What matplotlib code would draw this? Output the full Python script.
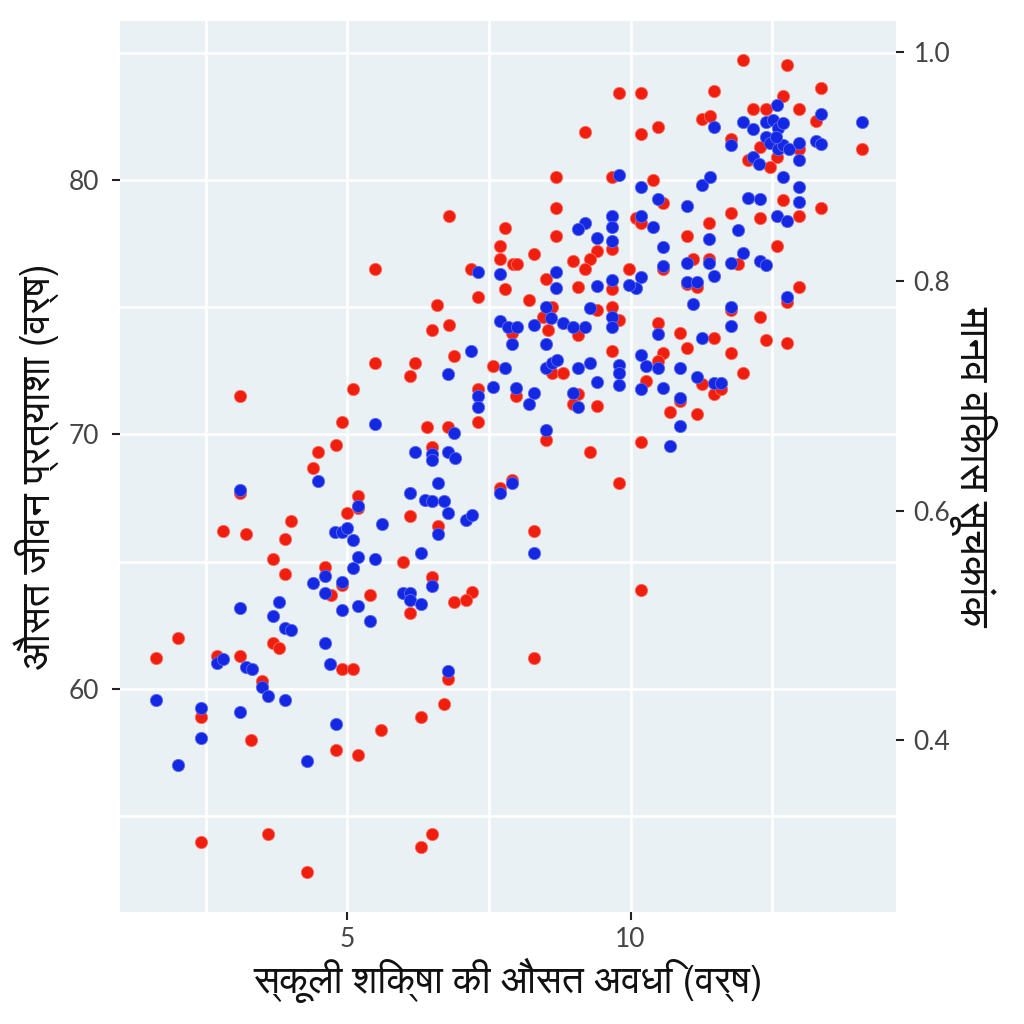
import matplotlib
matplotlib.use("Agg")
import matplotlib.pyplot as plt
from matplotlib import font_manager
from matplotlib.ticker import FixedLocator

# data (x = schooling years)
# red: life expectancy (left axis)
red_x = [11.98, 12.77, 13.37, 11.48, 9.79, 10.19, 12.69, 12.17, 12.39, 12.97,
         11.27, 11.40, 13.27, 10.49, 9.19, 10.19, 14.08, 11.78, 12.28, 12.58,
         12.97, 12.07, 12.47, 8.69, 9.68, 10.39, 12.69, 10.58, 13.37, 8.69,
         12.97, 11.78, 12.28, 10.09, 10.19, 11.38, 6.80, 7.79, 8.69, 10.99,
         12.58, 9.68, 7.70, 9.40, 8.29, 9.29, 7.70, 7.92, 8.00, 8.98,
         9.19, 9.98, 5.49, 7.19, 10.58, 11.10, 11.38, 11.89, 8.50, 7.79,
         9.08, 9.68, 12.97, 7.30, 8.20, 10.99, 11.18, 12.77, 6.59, 8.62,
         9.40, 9.68, 11.78, 8.46, 9.79, 12.28, 10.49, 6.80, 6.50, 10.88,
         7.90, 8.55, 9.08, 11.48, 12.39, 12.77, 10.99, 9.68, 11.78, 6.89,
         10.58, 10.49, 5.49, 6.20, 7.58, 8.62, 8.80, 11.98, 6.10, 10.28,
         11.27, 11.48, 11.59, 5.11, 7.30, 3.11, 7.97, 9.08, 8.98, 9.40,
         10.88, 10.69, 11.18, 7.30, 4.91, 6.40, 6.78, 8.50, 10.19, 4.81,
         6.50, 4.49, 9.28, 4.40, 9.79, 7.90, 7.70, 5.19, 3.11, 5.00,
         6.10, 4.01, 2.81, 3.22, 6.61, 8.29, 3.90, 3.69, 5.99, 3.90,
         4.61, 6.50, 4.91, 7.21, 7.10, 6.89, 4.72, 5.41, 10.19, 6.10,
         2.01, 3.69, 3.80, 1.63, 2.70, 3.11, 8.29, 4.91, 5.11, 6.78,
         3.50, 6.70, 2.42, 6.31, 5.60, 3.30, 4.81, 5.19, 2.42, 3.60,
         4.29, 6.50, 6.31, 5.19]
red_y = [84.7, 84.5, 83.6, 83.5, 83.4, 83.4, 83.3, 82.8, 82.8, 82.8,
         82.4, 82.5, 82.3, 82.1, 81.9, 81.8, 81.2, 81.6, 81.3, 80.9,
         81.2, 80.8, 80.5, 80.1, 80.1, 80.0, 79.2, 79.1, 78.9, 78.9,
         78.6, 78.7, 78.5, 78.5, 78.3, 78.3, 78.6, 78.1, 77.8, 77.8,
         77.4, 77.3, 77.4, 77.2, 77.1, 76.9, 76.9, 76.7, 76.7, 76.8,
         76.5, 76.5, 76.5, 76.5, 76.5, 76.9, 76.9, 76.7, 76.1, 75.7,
         75.8, 75.7, 75.8, 75.4, 75.3, 75.9, 75.8, 75.2, 75.1, 75.0,
         74.9, 75.0, 74.9, 74.6, 74.5, 74.6, 74.4, 74.3, 74.1, 74.0,
         74.0, 74.1, 73.9, 73.8, 73.7, 73.6, 73.4, 73.3, 73.2, 73.1,
         73.2, 72.9, 72.8, 72.8, 72.7, 72.4, 72.4, 72.4, 72.3, 72.1,
         72.0, 71.6, 71.8, 71.8, 71.8, 71.5, 71.5, 71.6, 71.2, 71.1,
         71.3, 70.9, 70.8, 70.5, 70.5, 70.3, 70.3, 69.8, 69.7, 69.6,
         69.5, 69.3, 69.3, 68.7, 68.1, 68.2, 67.9, 67.6, 67.7, 66.9,
         66.8, 66.6, 66.2, 66.1, 66.4, 66.2, 65.9, 65.1, 65.0, 64.5,
         64.8, 64.4, 64.1, 63.8, 63.5, 63.4, 63.7, 63.7, 63.9, 63.0,
         62.0, 61.8, 61.6, 61.2, 61.3, 61.3, 61.2, 60.8, 60.8, 60.4,
         60.3, 59.4, 58.9, 58.9, 58.4, 58.0, 57.6, 57.4, 54.0, 54.3,
         52.8, 54.3, 53.8, 67.1]

# blue: human development index (right axis)
blue_x = [14.08, 12.58, 13.37, 11.48, 11.98, 12.17, 12.39, 12.51, 12.60, 12.69,
          12.39, 12.47, 12.60, 12.69, 12.79, 12.56, 12.97, 12.97, 13.27, 13.37,
          11.78, 12.17, 12.26, 12.69, 12.97, 12.97, 12.58, 12.77, 11.27, 11.40,
          10.19, 10.49, 10.99, 12.07, 12.28, 10.19, 10.39, 11.89, 11.38, 10.58,
          11.98, 10.58, 10.99, 11.38, 11.78, 12.28, 12.39, 11.48, 10.19, 10.09,
          9.98, 10.99, 11.18, 11.10, 11.78, 12.77, 11.78, 9.79, 9.19, 9.08,
          9.68, 9.68, 9.40, 9.68, 8.69, 8.69, 9.40, 9.68, 8.50, 8.59,
          8.80, 8.98, 9.19, 9.68, 9.68, 9.28, 8.29, 7.70, 7.83, 8.00,
          7.30, 7.69, 7.90, 8.50, 10.49, 11.27, 10.19, 10.28, 10.49, 10.88,
          11.18, 11.47, 11.59, 10.19, 10.58, 10.88, 10.88, 10.69, 8.50, 8.62,
          8.71, 9.08, 9.29, 9.79, 9.79, 9.79, 9.40, 8.29, 8.20, 8.98,
          9.08, 8.50, 7.19, 7.79, 6.78, 7.58, 7.30, 7.30, 7.97, 5.49,
          6.89, 6.20, 6.50, 6.50, 6.78, 6.91, 4.49, 3.11, 5.19, 4.79,
          4.91, 5.00, 5.11, 5.62, 6.10, 6.38, 6.50, 6.70, 6.61, 6.78,
          7.10, 7.21, 6.61, 7.69, 7.90, 8.29, 5.19, 5.49, 5.11, 6.31,
          4.61, 4.40, 4.91, 4.61, 4.91, 5.19, 5.41, 5.99, 6.10, 6.10,
          6.31, 6.50, 3.11, 3.80, 3.69, 3.90, 4.01, 4.61, 4.70, 2.70,
          2.81, 3.22, 3.32, 3.50, 3.60, 3.90, 6.78, 1.63, 2.42, 3.11,
          2.42, 2.01, 4.81, 4.29]
blue_y = [0.939, 0.954, 0.946, 0.935, 0.939, 0.933, 0.939, 0.941, 0.934, 0.938,
          0.926, 0.921, 0.915, 0.919, 0.915, 0.926, 0.921, 0.906, 0.922, 0.920,
          0.919, 0.908, 0.902, 0.891, 0.882, 0.869, 0.857, 0.853, 0.884, 0.891,
          0.882, 0.872, 0.866, 0.873, 0.872, 0.857, 0.847, 0.845, 0.837, 0.830,
          0.825, 0.813, 0.816, 0.816, 0.816, 0.818, 0.814, 0.805, 0.804, 0.794,
          0.797, 0.799, 0.799, 0.780, 0.778, 0.786, 0.761, 0.893, 0.851, 0.846,
          0.857, 0.847, 0.838, 0.835, 0.808, 0.794, 0.796, 0.801, 0.778, 0.768,
          0.764, 0.760, 0.760, 0.769, 0.760, 0.777, 0.762, 0.765, 0.760, 0.760,
          0.808, 0.806, 0.745, 0.745, 0.754, 0.751, 0.736, 0.726, 0.724, 0.724,
          0.717, 0.711, 0.711, 0.706, 0.707, 0.698, 0.674, 0.656, 0.724, 0.729,
          0.731, 0.724, 0.729, 0.727, 0.720, 0.710, 0.712, 0.703, 0.693, 0.703,
          0.690, 0.670, 0.739, 0.724, 0.719, 0.708, 0.700, 0.690, 0.707, 0.676,
          0.668, 0.651, 0.649, 0.644, 0.651, 0.646, 0.626, 0.618, 0.604, 0.581,
          0.581, 0.585, 0.574, 0.588, 0.615, 0.609, 0.608, 0.608, 0.624, 0.598,
          0.592, 0.596, 0.580, 0.615, 0.624, 0.563, 0.560, 0.558, 0.550, 0.563,
          0.543, 0.537, 0.538, 0.528, 0.513, 0.517, 0.504, 0.528, 0.528, 0.522,
          0.519, 0.534, 0.515, 0.520, 0.508, 0.498, 0.496, 0.485, 0.466, 0.467,
          0.471, 0.464, 0.462, 0.446, 0.438, 0.435, 0.460, 0.435, 0.428, 0.424,
          0.402, 0.378, 0.414, 0.382]

x_label = "स्कूली शिक्षा की औसत अवधि (वर्ष)"
y_label = "औसत जीवन प्रत्याशा (वर्ष)"
y2_label = "मानव विकास सूचकांक"


def devanagari_font():
    try:
        from fontTools.ttLib import TTFont
    except Exception:
        return None
    found = []
    for f in font_manager.fontManager.ttflist:
        try:
            tt = TTFont(f.fname, fontNumber=0, lazy=True)
            cmap = tt.getBestCmap()
            if cmap and 0x0915 in cmap:
                found.append(f.name)
        except Exception:
            pass
    if not found:
        return None
    found.sort(key=lambda n: (0 if "Sans" in n else 1, n))
    return found[0]


deva = devanagari_font()
label_family = [deva, "DejaVu Sans"] if deva else ["DejaVu Sans"]
tick_family = ["Lato", "DejaVu Sans"]

bg = "#e9f1f4"
red = "#f01e0f"
blue = "#1428e4"
tick_col = "#444444"

fig = plt.figure(figsize=(10.24, 10.24), dpi=100)
ax = fig.add_axes([0.1172, 0.1097, 0.7575, 0.8701])
ax.set_facecolor(bg)
ax.set_xlim(0.99, 14.68)
ax.set_ylim(51.25, 86.26)

ax.scatter(red_x, red_y, s=78, color=red, edgecolors="#ff6b5e", linewidths=0.6, zorder=3)

ax.xaxis.set_major_locator(FixedLocator([5, 10]))
ax.xaxis.set_minor_locator(FixedLocator([2.5, 7.5, 12.5]))
ax.yaxis.set_major_locator(FixedLocator([60, 70, 80]))
ax.yaxis.set_minor_locator(FixedLocator([55, 65, 75, 85]))
ax.grid(True, which="both", color="white", lw=1.8)
ax.set_axisbelow(True)
ax.tick_params(which="minor", length=0)
ax.tick_params(axis="y", which="major", length=6, width=1.5, color="#222222",
               labelsize=19, labelcolor=tick_col, pad=9)
ax.tick_params(axis="x", which="major", length=6, width=1.5, color="#222222",
               labelsize=19, labelcolor=tick_col, pad=5)
for lab in ax.get_xticklabels() + ax.get_yticklabels():
    lab.set_family(tick_family)
for sp in ax.spines.values():
    sp.set_visible(False)

ax2 = ax.twinx()
ax2.set_ylim(0.2503, 1.0273)
ax2.scatter(blue_x, blue_y, s=78, color=blue, edgecolors="#5d6cf2", linewidths=0.6, zorder=3)
ax2.yaxis.set_major_locator(FixedLocator([0.4, 0.6, 0.8, 1.0]))
ax2.set_yticklabels(["0.4", "0.6", "0.8", "1.0"])
ax2.tick_params(length=6, width=1.5, color="#222222",
                labelsize=19, labelcolor=tick_col, pad=7)
for lab in ax2.get_yticklabels():
    lab.set_family(tick_family)
for sp in ax2.spines.values():
    sp.set_visible(False)

ax.set_xlabel(x_label, family=label_family, fontsize=28, color="#111111", labelpad=4)
ax.set_ylabel(y_label, family=label_family, fontsize=29, color="#111111", labelpad=6)
ax2.set_ylabel(y2_label, family=label_family, fontsize=30, color="#111111",
               rotation=270, labelpad=34)

fig.savefig("out.png", dpi=100, facecolor="white")
